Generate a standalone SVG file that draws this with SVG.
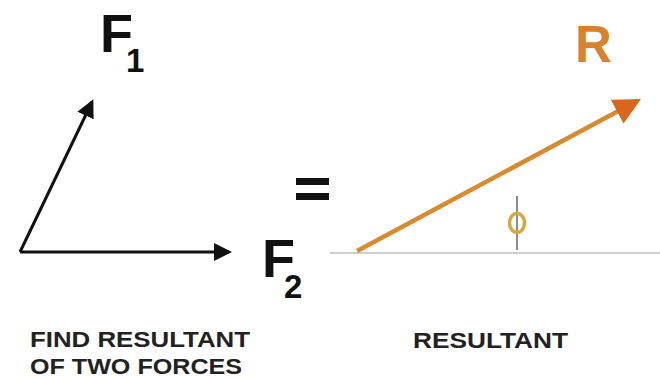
<svg xmlns="http://www.w3.org/2000/svg" width="660" height="378" viewBox="0 0 660 378">
<style>
.lbl{font-family:"Liberation Sans",Arial,sans-serif;font-weight:bold;fill:#111}
.cap{font-family:"Liberation Sans",Arial,sans-serif;font-weight:bold;fill:#222;font-size:22px}
</style>
<defs>
<marker id="ah" markerWidth="6" markerHeight="6" refX="5" refY="3" orient="auto" markerUnits="strokeWidth">
<path d="M0,0 L6,3 L0,6 z" fill="#111"/>
</marker>
<marker id="ahR" markerWidth="6" markerHeight="6" refX="5" refY="3" orient="auto" markerUnits="strokeWidth">
<path d="M0,0 L6,3 L0,6 z" fill="#d9661a"/>
</marker>
</defs>
<rect width="660" height="378" fill="#fff"/>
<g id="connectors">
<line x1="330" y1="253" x2="660" y2="253" stroke="#cfcfcf" stroke-width="2"/>
<line x1="20" y1="252" x2="92" y2="102" stroke="#111" stroke-width="3" marker-end="url(#ah)"/>
<line x1="20" y1="252" x2="229" y2="252" stroke="#111" stroke-width="3" marker-end="url(#ah)"/>
<line x1="357" y1="251" x2="637" y2="101" stroke="#d98a2e" stroke-width="4.5" marker-end="url(#ahR)"/>
<line x1="517" y1="196" x2="517" y2="250" stroke="#666" stroke-width="1.5"/>
</g>
<g id="F1">
<text class="lbl" x="100" y="52" font-size="54">F<tspan font-size="33" dx="-7" dy="20">1</tspan></text>
</g>
<g id="F2">
<text class="lbl" x="262" y="277" font-size="54">F<tspan font-size="33" dx="-11" dy="21">2</tspan></text>
</g>
<g id="equals">
<rect x="296" y="178" width="33" height="7" fill="#111"/>
<rect x="296" y="193" width="33" height="7" fill="#111"/>
</g>
<g id="R">
<text class="lbl" x="575" y="62" font-size="51" style="fill:#d9822b">R</text>
</g>
<g id="phi">
<ellipse cx="517" cy="223" rx="7.5" ry="9.5" fill="none" stroke="#d9a640" stroke-width="3.5"/>
</g>
<g id="captions">
<text class="cap" x="30" y="347" textLength="220" lengthAdjust="spacingAndGlyphs">FIND RESULTANT</text>
<text class="cap" x="30" y="374" textLength="212" lengthAdjust="spacingAndGlyphs">OF TWO FORCES</text>
<text class="cap" x="413" y="348" textLength="155" lengthAdjust="spacingAndGlyphs">RESULTANT</text>
</g>
</svg>
